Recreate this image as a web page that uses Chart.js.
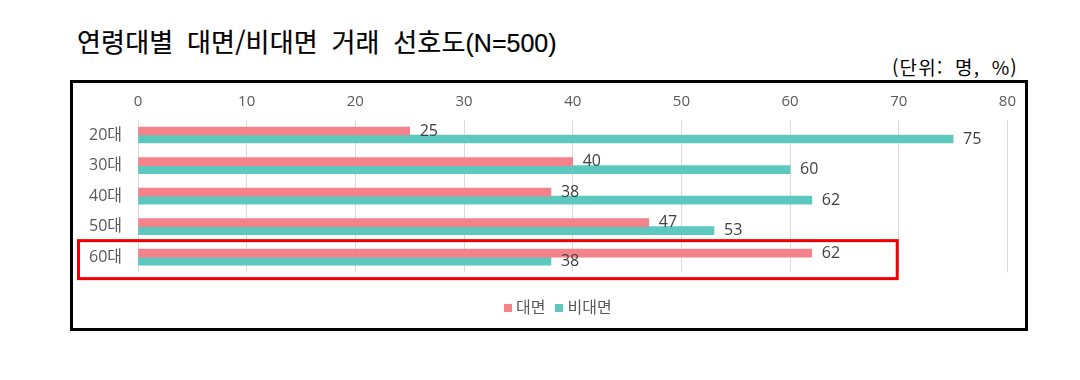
<!DOCTYPE html>
<html lang="ko">
<head>
<meta charset="utf-8">
<script src="https://cdn.jsdelivr.net/npm/chart.js@4.4.1/dist/chart.umd.min.js"></script>
<style>
  html, body { margin: 0; padding: 0; background: #fff; }
  body { width: 1080px; height: 380px; position: relative; overflow: hidden; }
  #title { position: absolute; left: 77px; top: 23px; font: 400 26px "Noto Sans CJK KR", sans-serif; color: #000; white-space: nowrap; word-spacing: 6px; letter-spacing: 0.2px; line-height: 36px; -webkit-text-stroke: 0.2px #000; }
  #title .lat { font-family: "Liberation Sans", Arial, sans-serif; font-size: 25px; letter-spacing: 0; }
  #unit { position: absolute; right: 62px; top: 55px; font: 400 19px "Noto Sans CJK KR", sans-serif; color: #000; white-space: nowrap; line-height: 24px; word-spacing: 5px; letter-spacing: 1.2px; }
  #box { position: absolute; left: 70px; top: 80px; width: 952px; height: 245px; border: 3px solid #000; }
  #wrap { position: absolute; left: 73px; top: 83px; width: 952px; height: 215px; }
  #legend { position: absolute; left: 504px; top: 296px; font: 400 16px "Open Sans", "Noto Sans CJK KR", sans-serif; color: #595959; white-space: nowrap; line-height: 22px; }
  #legend span.item { margin-right: 10px; }
  #legend i { display: inline-block; width: 8px; height: 8px; margin-right: 4px; vertical-align: 1px; }
</style>
</head>
<body>
<div id="title">연령대별 대면/비대면 거래 선호도<span class="lat">(N=500)</span></div>
<div id="unit">(단위: 명, %)</div>
<div id="box"></div>
<div id="wrap"><canvas id="c"></canvas></div>
<div id="legend"></div>
<script>
const categories = ["20대", "30대", "40대", "50대", "60대"];
const seriesNames = ["대면", "비대면"];
const faceToFace = [25, 40, 38, 47, 62];
const nonFaceToFace = [75, 60, 62, 53, 38];
const seriesColors = ["#F4828A", "#5DC9BE"];
const highlightIndex = 4;

const valueLabels = {
  id: "valueLabels",
  afterDatasetsDraw(chart) {
    const ctx = chart.ctx;
    ctx.save();
    ctx.font = '400 16px "Open Sans", "Noto Sans CJK KR", sans-serif';
    ctx.fillStyle = "#404040";
    ctx.textAlign = "left";
    ctx.textBaseline = "middle";
    chart.data.datasets.forEach((ds, di) => {
      const meta = chart.getDatasetMeta(di);
      meta.data.forEach((el, i) => {
        ctx.fillText(String(ds.data[i]), el.x + 10, el.y);
      });
    });
    ctx.restore();
  }
};

const highlightBox = {
  id: "highlightBox",
  afterDraw(chart) {
    const ctx = chart.ctx;
    const ys = chart.scales.y, xs = chart.scales.x;
    const cy = ys.getPixelForValue(highlightIndex);
    const left = chart.chartArea.left - 59.5;
    const right = xs.getPixelForValue(70) - 1.5;
    const top = cy - 16.5, bottom = cy + 21.5;
    ctx.save();
    ctx.strokeStyle = "#F00000";
    ctx.lineWidth = 3;
    ctx.strokeRect(left, top, right - left, bottom - top);
    ctx.restore();
  }
};

new Chart(document.getElementById("c"), {
  type: "bar",
  data: {
    labels: categories,
    datasets: [
      { label: seriesNames[0], data: faceToFace, backgroundColor: seriesColors[0], barThickness: 8 },
      { label: seriesNames[1], data: nonFaceToFace, backgroundColor: seriesColors[1], barThickness: 8 }
    ]
  },
  options: {
    indexAxis: "y",
    responsive: true,
    maintainAspectRatio: false,
    animation: false,
    layout: { padding: { left: 0, right: 15, top: 0, bottom: 15.75 } },
    plugins: { legend: { display: false }, tooltip: { enabled: false } },
    scales: {
      x: {
        position: "top",
        min: 0, max: 80,
        ticks: { stepSize: 10, padding: 9, color: "#595959", font: { family: '"Open Sans", "Noto Sans CJK KR", sans-serif', size: 15 } },
        grid: { color: "#D9D9D9", drawTicks: false, lineWidth: 1 },
        border: { display: false },
        afterFit(scale) { scale.height = 36.75; }
      },
      y: {
        ticks: { padding: 16, color: "#595959", font: { family: '"Open Sans", "Noto Sans CJK KR", sans-serif', size: 16 } },
        grid: { display: false, drawTicks: false },
        border: { display: false },
        afterFit(scale) { scale.width = 65; }
      }
    }
  },
  plugins: [valueLabels, highlightBox]
});

const legendEl = document.getElementById("legend");
seriesNames.forEach((name, i) => {
  const item = document.createElement("span");
  item.className = "item";
  const sw = document.createElement("i");
  sw.style.background = seriesColors[i];
  item.appendChild(sw);
  item.appendChild(document.createTextNode(name));
  legendEl.appendChild(item);
});
</script>
</body>
</html>
